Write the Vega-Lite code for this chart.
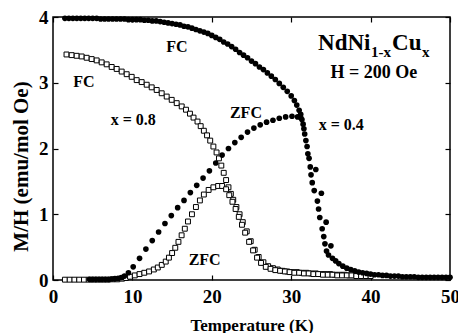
{
  "$schema": "https://vega.github.io/schema/vega-lite/v6.json",
  "width": 397,
  "height": 263,
  "autosize": {"type": "none"},
  "padding": {"left": 53, "top": 17, "right": 8, "bottom": 53},
  "background": "white",
  "datasets": {
    "magnetization": [
      {"x": "0.8", "mode": "FC", "T": 1.7, "M": 3.43}, {"x": "0.8", "mode": "FC", "T": 2.35, "M": 3.42}, {"x": "0.8", "mode": "FC", "T": 2.98, "M": 3.41}, {"x": "0.8", "mode": "FC", "T": 3.61, "M": 3.4},
      {"x": "0.8", "mode": "FC", "T": 4.24, "M": 3.38}, {"x": "0.8", "mode": "FC", "T": 4.87, "M": 3.36}, {"x": "0.8", "mode": "FC", "T": 5.5, "M": 3.34}, {"x": "0.8", "mode": "FC", "T": 6.13, "M": 3.31},
      {"x": "0.8", "mode": "FC", "T": 6.76, "M": 3.28}, {"x": "0.8", "mode": "FC", "T": 7.39, "M": 3.24}, {"x": "0.8", "mode": "FC", "T": 8.02, "M": 3.21}, {"x": "0.8", "mode": "FC", "T": 8.65, "M": 3.17},
      {"x": "0.8", "mode": "FC", "T": 9.28, "M": 3.13}, {"x": "0.8", "mode": "FC", "T": 9.91, "M": 3.09}, {"x": "0.8", "mode": "FC", "T": 10.54, "M": 3.04}, {"x": "0.8", "mode": "FC", "T": 11.17, "M": 3.01},
      {"x": "0.8", "mode": "FC", "T": 11.8, "M": 2.97}, {"x": "0.8", "mode": "FC", "T": 12.43, "M": 2.93}, {"x": "0.8", "mode": "FC", "T": 13.06, "M": 2.89}, {"x": "0.8", "mode": "FC", "T": 13.69, "M": 2.84},
      {"x": "0.8", "mode": "FC", "T": 14.32, "M": 2.79}, {"x": "0.8", "mode": "FC", "T": 14.95, "M": 2.74}, {"x": "0.8", "mode": "FC", "T": 15.58, "M": 2.69}, {"x": "0.8", "mode": "FC", "T": 16.21, "M": 2.64},
      {"x": "0.8", "mode": "FC", "T": 16.75, "M": 2.59}, {"x": "0.8", "mode": "FC", "T": 17.25, "M": 2.53}, {"x": "0.8", "mode": "FC", "T": 17.7, "M": 2.47}, {"x": "0.8", "mode": "FC", "T": 18.2, "M": 2.41},
      {"x": "0.8", "mode": "FC", "T": 18.6, "M": 2.34}, {"x": "0.8", "mode": "FC", "T": 19.0, "M": 2.27}, {"x": "0.8", "mode": "FC", "T": 19.4, "M": 2.2}, {"x": "0.8", "mode": "FC", "T": 19.8, "M": 2.12},
      {"x": "0.8", "mode": "FC", "T": 20.2, "M": 2.03}, {"x": "0.8", "mode": "FC", "T": 20.6, "M": 1.94}, {"x": "0.8", "mode": "FC", "T": 20.9, "M": 1.85}, {"x": "0.8", "mode": "FC", "T": 21.2, "M": 1.74},
      {"x": "0.8", "mode": "FC", "T": 21.5, "M": 1.63}, {"x": "0.8", "mode": "FC", "T": 21.8, "M": 1.52}, {"x": "0.8", "mode": "FC", "T": 22.1, "M": 1.41}, {"x": "0.8", "mode": "FC", "T": 22.4, "M": 1.31},
      {"x": "0.8", "mode": "FC", "T": 22.7, "M": 1.22}, {"x": "0.8", "mode": "FC", "T": 23.1, "M": 1.11}, {"x": "0.8", "mode": "FC", "T": 23.5, "M": 1.0}, {"x": "0.8", "mode": "FC", "T": 23.9, "M": 0.88},
      {"x": "0.8", "mode": "FC", "T": 24.4, "M": 0.74}, {"x": "0.8", "mode": "FC", "T": 24.9, "M": 0.59}, {"x": "0.8", "mode": "FC", "T": 25.4, "M": 0.46}, {"x": "0.8", "mode": "FC", "T": 25.9, "M": 0.35},
      {"x": "0.8", "mode": "FC", "T": 26.5, "M": 0.27}, {"x": "0.8", "mode": "FC", "T": 27.1, "M": 0.21}, {"x": "0.8", "mode": "FC", "T": 27.7, "M": 0.18}, {"x": "0.8", "mode": "FC", "T": 28.3, "M": 0.16},
      {"x": "0.8", "mode": "FC", "T": 28.9, "M": 0.14}, {"x": "0.8", "mode": "FC", "T": 29.5, "M": 0.13}, {"x": "0.8", "mode": "FC", "T": 30.1, "M": 0.12}, {"x": "0.8", "mode": "FC", "T": 30.7, "M": 0.12},
      {"x": "0.8", "mode": "FC", "T": 31.3, "M": 0.11}, {"x": "0.8", "mode": "FC", "T": 31.9, "M": 0.11}, {"x": "0.8", "mode": "FC", "T": 32.5, "M": 0.1}, {"x": "0.8", "mode": "FC", "T": 33.1, "M": 0.1},
      {"x": "0.8", "mode": "FC", "T": 33.7, "M": 0.09}, {"x": "0.8", "mode": "FC", "T": 34.3, "M": 0.09}, {"x": "0.8", "mode": "FC", "T": 34.9, "M": 0.09}, {"x": "0.8", "mode": "FC", "T": 35.5, "M": 0.08},
      {"x": "0.8", "mode": "FC", "T": 36.1, "M": 0.08}, {"x": "0.8", "mode": "FC", "T": 36.7, "M": 0.08}, {"x": "0.8", "mode": "FC", "T": 37.3, "M": 0.07}, {"x": "0.8", "mode": "FC", "T": 37.9, "M": 0.07},
      {"x": "0.8", "mode": "FC", "T": 38.5, "M": 0.07}, {"x": "0.8", "mode": "FC", "T": 39.1, "M": 0.07}, {"x": "0.8", "mode": "FC", "T": 39.7, "M": 0.06},

      {"x": "0.8", "mode": "ZFC", "T": 1.5, "M": 0.005}, {"x": "0.8", "mode": "ZFC", "T": 2.1, "M": 0.005}, {"x": "0.8", "mode": "ZFC", "T": 2.7, "M": 0.005}, {"x": "0.8", "mode": "ZFC", "T": 3.3, "M": 0.005},
      {"x": "0.8", "mode": "ZFC", "T": 3.9, "M": 0.005}, {"x": "0.8", "mode": "ZFC", "T": 4.5, "M": 0.005}, {"x": "0.8", "mode": "ZFC", "T": 5.1, "M": 0.005}, {"x": "0.8", "mode": "ZFC", "T": 5.7, "M": 0.005},
      {"x": "0.8", "mode": "ZFC", "T": 6.3, "M": 0.005}, {"x": "0.8", "mode": "ZFC", "T": 6.9, "M": 0.005}, {"x": "0.8", "mode": "ZFC", "T": 7.5, "M": 0.01}, {"x": "0.8", "mode": "ZFC", "T": 8.1, "M": 0.01},
      {"x": "0.8", "mode": "ZFC", "T": 8.7, "M": 0.02}, {"x": "0.8", "mode": "ZFC", "T": 9.2, "M": 0.03}, {"x": "0.8", "mode": "ZFC", "T": 9.7, "M": 0.05}, {"x": "0.8", "mode": "ZFC", "T": 10.3, "M": 0.07},
      {"x": "0.8", "mode": "ZFC", "T": 10.9, "M": 0.09}, {"x": "0.8", "mode": "ZFC", "T": 11.5, "M": 0.11}, {"x": "0.8", "mode": "ZFC", "T": 12.1, "M": 0.13}, {"x": "0.8", "mode": "ZFC", "T": 12.7, "M": 0.16},
      {"x": "0.8", "mode": "ZFC", "T": 13.2, "M": 0.19}, {"x": "0.8", "mode": "ZFC", "T": 13.7, "M": 0.23}, {"x": "0.8", "mode": "ZFC", "T": 14.2, "M": 0.28}, {"x": "0.8", "mode": "ZFC", "T": 14.6, "M": 0.34},
      {"x": "0.8", "mode": "ZFC", "T": 15.0, "M": 0.41}, {"x": "0.8", "mode": "ZFC", "T": 15.4, "M": 0.49}, {"x": "0.8", "mode": "ZFC", "T": 15.8, "M": 0.58}, {"x": "0.8", "mode": "ZFC", "T": 16.2, "M": 0.68},
      {"x": "0.8", "mode": "ZFC", "T": 16.6, "M": 0.78}, {"x": "0.8", "mode": "ZFC", "T": 17.0, "M": 0.89}, {"x": "0.8", "mode": "ZFC", "T": 17.5, "M": 1.0}, {"x": "0.8", "mode": "ZFC", "T": 18.0, "M": 1.11},
      {"x": "0.8", "mode": "ZFC", "T": 18.5, "M": 1.21}, {"x": "0.8", "mode": "ZFC", "T": 19.0, "M": 1.3}, {"x": "0.8", "mode": "ZFC", "T": 19.6, "M": 1.37}, {"x": "0.8", "mode": "ZFC", "T": 20.2, "M": 1.41},
      {"x": "0.8", "mode": "ZFC", "T": 20.8, "M": 1.43}, {"x": "0.8", "mode": "ZFC", "T": 21.3, "M": 1.43}, {"x": "0.8", "mode": "ZFC", "T": 21.8, "M": 1.38}, {"x": "0.8", "mode": "ZFC", "T": 22.2, "M": 1.29},
      {"x": "0.8", "mode": "ZFC", "T": 22.6, "M": 1.19}, {"x": "0.8", "mode": "ZFC", "T": 23.0, "M": 1.08}, {"x": "0.8", "mode": "ZFC", "T": 23.4, "M": 0.96}, {"x": "0.8", "mode": "ZFC", "T": 23.8, "M": 0.84},
      {"x": "0.8", "mode": "ZFC", "T": 24.2, "M": 0.72}, {"x": "0.8", "mode": "ZFC", "T": 24.7, "M": 0.58}, {"x": "0.8", "mode": "ZFC", "T": 25.2, "M": 0.45}, {"x": "0.8", "mode": "ZFC", "T": 25.7, "M": 0.34},
      {"x": "0.8", "mode": "ZFC", "T": 26.2, "M": 0.26}, {"x": "0.8", "mode": "ZFC", "T": 26.8, "M": 0.2}, {"x": "0.8", "mode": "ZFC", "T": 27.4, "M": 0.17}, {"x": "0.8", "mode": "ZFC", "T": 28.0, "M": 0.15},
      {"x": "0.8", "mode": "ZFC", "T": 28.6, "M": 0.14}, {"x": "0.8", "mode": "ZFC", "T": 29.2, "M": 0.13}, {"x": "0.8", "mode": "ZFC", "T": 29.8, "M": 0.12}, {"x": "0.8", "mode": "ZFC", "T": 30.4, "M": 0.11},
      {"x": "0.8", "mode": "ZFC", "T": 31.0, "M": 0.11}, {"x": "0.8", "mode": "ZFC", "T": 31.6, "M": 0.1}, {"x": "0.8", "mode": "ZFC", "T": 32.2, "M": 0.1}, {"x": "0.8", "mode": "ZFC", "T": 32.8, "M": 0.09},
      {"x": "0.8", "mode": "ZFC", "T": 33.4, "M": 0.09}, {"x": "0.8", "mode": "ZFC", "T": 34.0, "M": 0.08}, {"x": "0.8", "mode": "ZFC", "T": 34.6, "M": 0.08}, {"x": "0.8", "mode": "ZFC", "T": 35.2, "M": 0.08},
      {"x": "0.8", "mode": "ZFC", "T": 35.8, "M": 0.07}, {"x": "0.8", "mode": "ZFC", "T": 36.4, "M": 0.07}, {"x": "0.8", "mode": "ZFC", "T": 37.0, "M": 0.07}, {"x": "0.8", "mode": "ZFC", "T": 37.6, "M": 0.07},
      {"x": "0.8", "mode": "ZFC", "T": 38.2, "M": 0.06}, {"x": "0.8", "mode": "ZFC", "T": 38.8, "M": 0.06}, {"x": "0.8", "mode": "ZFC", "T": 39.4, "M": 0.06}, {"x": "0.8", "mode": "ZFC", "T": 40.0, "M": 0.06},

      {"x": "0.4", "mode": "FC", "T": 1.5, "M": 3.98}, {"x": "0.4", "mode": "FC", "T": 2.0, "M": 3.98}, {"x": "0.4", "mode": "FC", "T": 2.5, "M": 3.98}, {"x": "0.4", "mode": "FC", "T": 3.0, "M": 3.98},
      {"x": "0.4", "mode": "FC", "T": 3.5, "M": 3.98}, {"x": "0.4", "mode": "FC", "T": 4.0, "M": 3.98}, {"x": "0.4", "mode": "FC", "T": 4.5, "M": 3.98}, {"x": "0.4", "mode": "FC", "T": 5.0, "M": 3.98},
      {"x": "0.4", "mode": "FC", "T": 5.5, "M": 3.98}, {"x": "0.4", "mode": "FC", "T": 6.0, "M": 3.97}, {"x": "0.4", "mode": "FC", "T": 6.5, "M": 3.97}, {"x": "0.4", "mode": "FC", "T": 7.0, "M": 3.97},
      {"x": "0.4", "mode": "FC", "T": 7.5, "M": 3.97}, {"x": "0.4", "mode": "FC", "T": 8.0, "M": 3.97}, {"x": "0.4", "mode": "FC", "T": 8.5, "M": 3.97}, {"x": "0.4", "mode": "FC", "T": 9.0, "M": 3.97},
      {"x": "0.4", "mode": "FC", "T": 9.5, "M": 3.96}, {"x": "0.4", "mode": "FC", "T": 10.0, "M": 3.96}, {"x": "0.4", "mode": "FC", "T": 10.5, "M": 3.96}, {"x": "0.4", "mode": "FC", "T": 11.0, "M": 3.96},
      {"x": "0.4", "mode": "FC", "T": 11.5, "M": 3.95}, {"x": "0.4", "mode": "FC", "T": 12.0, "M": 3.95}, {"x": "0.4", "mode": "FC", "T": 12.5, "M": 3.94}, {"x": "0.4", "mode": "FC", "T": 13.0, "M": 3.94},
      {"x": "0.4", "mode": "FC", "T": 13.5, "M": 3.93}, {"x": "0.4", "mode": "FC", "T": 14.0, "M": 3.92}, {"x": "0.4", "mode": "FC", "T": 14.5, "M": 3.91}, {"x": "0.4", "mode": "FC", "T": 15.0, "M": 3.9},
      {"x": "0.4", "mode": "FC", "T": 15.5, "M": 3.89}, {"x": "0.4", "mode": "FC", "T": 16.0, "M": 3.88}, {"x": "0.4", "mode": "FC", "T": 16.5, "M": 3.86}, {"x": "0.4", "mode": "FC", "T": 17.0, "M": 3.85},
      {"x": "0.4", "mode": "FC", "T": 17.5, "M": 3.83}, {"x": "0.4", "mode": "FC", "T": 18.0, "M": 3.81}, {"x": "0.4", "mode": "FC", "T": 18.5, "M": 3.79}, {"x": "0.4", "mode": "FC", "T": 19.0, "M": 3.77},
      {"x": "0.4", "mode": "FC", "T": 19.5, "M": 3.75}, {"x": "0.4", "mode": "FC", "T": 20.0, "M": 3.72}, {"x": "0.4", "mode": "FC", "T": 20.5, "M": 3.69}, {"x": "0.4", "mode": "FC", "T": 21.0, "M": 3.66},
      {"x": "0.4", "mode": "FC", "T": 21.5, "M": 3.62}, {"x": "0.4", "mode": "FC", "T": 22.0, "M": 3.59}, {"x": "0.4", "mode": "FC", "T": 22.5, "M": 3.55}, {"x": "0.4", "mode": "FC", "T": 23.0, "M": 3.51},
      {"x": "0.4", "mode": "FC", "T": 23.5, "M": 3.46}, {"x": "0.4", "mode": "FC", "T": 24.0, "M": 3.42}, {"x": "0.4", "mode": "FC", "T": 24.5, "M": 3.38}, {"x": "0.4", "mode": "FC", "T": 25.0, "M": 3.33},
      {"x": "0.4", "mode": "FC", "T": 25.5, "M": 3.29}, {"x": "0.4", "mode": "FC", "T": 26.0, "M": 3.24}, {"x": "0.4", "mode": "FC", "T": 26.5, "M": 3.2}, {"x": "0.4", "mode": "FC", "T": 27.0, "M": 3.15},
      {"x": "0.4", "mode": "FC", "T": 27.5, "M": 3.1}, {"x": "0.4", "mode": "FC", "T": 28.0, "M": 3.05}, {"x": "0.4", "mode": "FC", "T": 28.5, "M": 2.99}, {"x": "0.4", "mode": "FC", "T": 29.0, "M": 2.93},
      {"x": "0.4", "mode": "FC", "T": 29.5, "M": 2.87}, {"x": "0.4", "mode": "FC", "T": 30.0, "M": 2.8}, {"x": "0.4", "mode": "FC", "T": 30.4, "M": 2.73}, {"x": "0.4", "mode": "FC", "T": 30.7, "M": 2.66},
      {"x": "0.4", "mode": "FC", "T": 31.0, "M": 2.58}, {"x": "0.4", "mode": "FC", "T": 31.2, "M": 2.52}, {"x": "0.4", "mode": "FC", "T": 31.35, "M": 2.44}, {"x": "0.4", "mode": "FC", "T": 31.5, "M": 2.37},
      {"x": "0.4", "mode": "FC", "T": 31.6, "M": 2.3}, {"x": "0.4", "mode": "FC", "T": 31.7, "M": 2.22}, {"x": "0.4", "mode": "FC", "T": 31.85, "M": 2.12}, {"x": "0.4", "mode": "FC", "T": 32.0, "M": 2.03},
      {"x": "0.4", "mode": "FC", "T": 32.1, "M": 1.92}, {"x": "0.4", "mode": "FC", "T": 32.25, "M": 1.85}, {"x": "0.4", "mode": "FC", "T": 32.4, "M": 1.72}, {"x": "0.4", "mode": "FC", "T": 33.1, "M": 1.68},
      {"x": "0.4", "mode": "FC", "T": 32.5, "M": 1.6}, {"x": "0.4", "mode": "FC", "T": 32.65, "M": 1.48}, {"x": "0.4", "mode": "FC", "T": 32.9, "M": 1.36}, {"x": "0.4", "mode": "FC", "T": 33.8, "M": 1.32},
      {"x": "0.4", "mode": "FC", "T": 33.3, "M": 1.2}, {"x": "0.4", "mode": "FC", "T": 33.45, "M": 1.08}, {"x": "0.4", "mode": "FC", "T": 33.6, "M": 0.95}, {"x": "0.4", "mode": "FC", "T": 34.4, "M": 0.88},
      {"x": "0.4", "mode": "FC", "T": 33.9, "M": 0.78}, {"x": "0.4", "mode": "FC", "T": 34.1, "M": 0.66}, {"x": "0.4", "mode": "FC", "T": 34.25, "M": 0.55}, {"x": "0.4", "mode": "FC", "T": 35.0, "M": 0.52},
      {"x": "0.4", "mode": "FC", "T": 34.45, "M": 0.44}, {"x": "0.4", "mode": "FC", "T": 34.7, "M": 0.38}, {"x": "0.4", "mode": "FC", "T": 35.2, "M": 0.33}, {"x": "0.4", "mode": "FC", "T": 35.6, "M": 0.29},
      {"x": "0.4", "mode": "FC", "T": 36.0, "M": 0.25}, {"x": "0.4", "mode": "FC", "T": 36.5, "M": 0.21}, {"x": "0.4", "mode": "FC", "T": 37.0, "M": 0.18}, {"x": "0.4", "mode": "FC", "T": 37.5, "M": 0.16},
      {"x": "0.4", "mode": "FC", "T": 38.0, "M": 0.14}, {"x": "0.4", "mode": "FC", "T": 38.5, "M": 0.12}, {"x": "0.4", "mode": "FC", "T": 39.0, "M": 0.11}, {"x": "0.4", "mode": "FC", "T": 39.5, "M": 0.1},
      {"x": "0.4", "mode": "FC", "T": 40.0, "M": 0.09}, {"x": "0.4", "mode": "FC", "T": 40.5, "M": 0.08}, {"x": "0.4", "mode": "FC", "T": 41.0, "M": 0.08}, {"x": "0.4", "mode": "FC", "T": 41.5, "M": 0.07},
      {"x": "0.4", "mode": "FC", "T": 42.0, "M": 0.07}, {"x": "0.4", "mode": "FC", "T": 42.5, "M": 0.06}, {"x": "0.4", "mode": "FC", "T": 43.0, "M": 0.06}, {"x": "0.4", "mode": "FC", "T": 43.5, "M": 0.06},
      {"x": "0.4", "mode": "FC", "T": 44.0, "M": 0.05}, {"x": "0.4", "mode": "FC", "T": 44.5, "M": 0.05}, {"x": "0.4", "mode": "FC", "T": 45.0, "M": 0.05}, {"x": "0.4", "mode": "FC", "T": 45.5, "M": 0.05},
      {"x": "0.4", "mode": "FC", "T": 46.0, "M": 0.04}, {"x": "0.4", "mode": "FC", "T": 46.5, "M": 0.04}, {"x": "0.4", "mode": "FC", "T": 47.0, "M": 0.04}, {"x": "0.4", "mode": "FC", "T": 47.5, "M": 0.04},
      {"x": "0.4", "mode": "FC", "T": 48.0, "M": 0.04}, {"x": "0.4", "mode": "FC", "T": 48.5, "M": 0.04}, {"x": "0.4", "mode": "FC", "T": 49.0, "M": 0.04}, {"x": "0.4", "mode": "FC", "T": 49.5, "M": 0.04},
      {"x": "0.4", "mode": "FC", "T": 50.0, "M": 0.04},

      {"x": "0.4", "mode": "ZFC", "T": 4.6, "M": 0.01}, {"x": "0.4", "mode": "ZFC", "T": 5.0, "M": 0.01}, {"x": "0.4", "mode": "ZFC", "T": 5.4, "M": 0.01}, {"x": "0.4", "mode": "ZFC", "T": 5.8, "M": 0.01},
      {"x": "0.4", "mode": "ZFC", "T": 6.2, "M": 0.01}, {"x": "0.4", "mode": "ZFC", "T": 6.6, "M": 0.01}, {"x": "0.4", "mode": "ZFC", "T": 7.0, "M": 0.01}, {"x": "0.4", "mode": "ZFC", "T": 7.4, "M": 0.015},
      {"x": "0.4", "mode": "ZFC", "T": 7.8, "M": 0.02}, {"x": "0.4", "mode": "ZFC", "T": 8.2, "M": 0.025}, {"x": "0.4", "mode": "ZFC", "T": 8.6, "M": 0.035}, {"x": "0.4", "mode": "ZFC", "T": 9.0, "M": 0.06},
      {"x": "0.4", "mode": "ZFC", "T": 9.5, "M": 0.11}, {"x": "0.4", "mode": "ZFC", "T": 10.1, "M": 0.2}, {"x": "0.4", "mode": "ZFC", "T": 10.9, "M": 0.33}, {"x": "0.4", "mode": "ZFC", "T": 11.7, "M": 0.47},
      {"x": "0.4", "mode": "ZFC", "T": 12.5, "M": 0.6}, {"x": "0.4", "mode": "ZFC", "T": 13.3, "M": 0.73}, {"x": "0.4", "mode": "ZFC", "T": 14.1, "M": 0.86}, {"x": "0.4", "mode": "ZFC", "T": 14.9, "M": 0.98},
      {"x": "0.4", "mode": "ZFC", "T": 15.7, "M": 1.1}, {"x": "0.4", "mode": "ZFC", "T": 16.5, "M": 1.21}, {"x": "0.4", "mode": "ZFC", "T": 17.3, "M": 1.33}, {"x": "0.4", "mode": "ZFC", "T": 18.1, "M": 1.44},
      {"x": "0.4", "mode": "ZFC", "T": 18.9, "M": 1.55}, {"x": "0.4", "mode": "ZFC", "T": 19.7, "M": 1.66}, {"x": "0.4", "mode": "ZFC", "T": 20.5, "M": 1.78}, {"x": "0.4", "mode": "ZFC", "T": 21.3, "M": 1.9},
      {"x": "0.4", "mode": "ZFC", "T": 22.1, "M": 2.0}, {"x": "0.4", "mode": "ZFC", "T": 22.9, "M": 2.09}, {"x": "0.4", "mode": "ZFC", "T": 23.7, "M": 2.17}, {"x": "0.4", "mode": "ZFC", "T": 24.5, "M": 2.25},
      {"x": "0.4", "mode": "ZFC", "T": 25.3, "M": 2.31}, {"x": "0.4", "mode": "ZFC", "T": 26.1, "M": 2.36}, {"x": "0.4", "mode": "ZFC", "T": 26.9, "M": 2.4}, {"x": "0.4", "mode": "ZFC", "T": 27.7, "M": 2.43},
      {"x": "0.4", "mode": "ZFC", "T": 28.5, "M": 2.46}, {"x": "0.4", "mode": "ZFC", "T": 29.3, "M": 2.48}, {"x": "0.4", "mode": "ZFC", "T": 30.1, "M": 2.49}, {"x": "0.4", "mode": "ZFC", "T": 30.8, "M": 2.48},
      {"x": "0.4", "mode": "ZFC", "T": 31.2, "M": 2.47}
    ],
    "notes": [
      {"role": "label", "T": 15.6, "M": 3.47, "text": "FC"},
      {"role": "label", "T": 3.9, "M": 2.94, "text": "FC"},
      {"role": "label", "T": 10.1, "M": 2.36, "text": "x = 0.8"},
      {"role": "label", "T": 24.3, "M": 2.46, "text": "ZFC"},
      {"role": "label", "T": 36.3, "M": 2.28, "text": "x = 0.4"},
      {"role": "label", "T": 19.1, "M": 0.23, "text": "ZFC"},
      {"role": "field", "T": 40.4, "M": 3.07, "text": "H = 200 Oe"},
      {"role": "formula", "T": 33.38, "M": 3.5, "text": "NdNi"},
      {"role": "formula", "T": 42.7, "M": 3.5, "text": "Cu"},
      {"role": "subscript", "T": 40.05, "M": 3.39, "text": "1-x"},
      {"role": "subscript", "T": 46.47, "M": 3.39, "text": "x"}
    ]
  },
  "layer": [
    {
      "data": {"name": "magnetization"},
      "transform": [{"filter": "datum.x === '0.8'"}],
      "mark": {"type": "point", "shape": "square", "size": 24, "filled": false, "fill": "white", "stroke": "black", "strokeWidth": 1, "opacity": 1},
      "encoding": {
        "x": {"field": "T", "type": "quantitative", "scale": {"domain": [0, 50], "nice": false},
              "axis": {"orient": "bottom", "values": [0, 10, 20, 30, 40, 50], "title": "Temperature (K)",
                       "titleFontSize": 17, "titleY": 50, "titleBaseline": "alphabetic", "labelPadding": 12}},
        "y": {"field": "M", "type": "quantitative", "scale": {"domain": [0, 4], "nice": false},
              "axis": {"orient": "left", "values": [0, 1, 2, 3, 4], "title": "M/H (emu/mol Oe)",
                       "titleFontSize": 21, "titleX": -26, "titleY": 149, "titleAngle": -90, "titleAlign": "center", "titleBaseline": "alphabetic", "labelPadding": 10}}
      }
    },
    {
      "data": {"name": "magnetization"},
      "transform": [{"filter": "datum.x === '0.4'"}],
      "mark": {"type": "circle", "size": 32, "color": "black", "opacity": 1},
      "encoding": {
        "x": {"field": "T", "type": "quantitative",
              "axis": {"orient": "top", "values": [0, 10, 20, 30, 40, 50], "labels": false, "title": null}},
        "y": {"field": "M", "type": "quantitative",
              "axis": {"orient": "right", "values": [0, 1, 2, 3, 4], "labels": false, "title": null}}
      }
    },
    {
      "data": {"name": "notes"},
      "transform": [{"filter": "datum.role === 'label'"}],
      "mark": {"type": "text", "font": "Liberation Serif", "fontWeight": "bold", "fontSize": 16, "align": "center", "baseline": "alphabetic", "color": "black"},
      "encoding": {"x": {"field": "T", "type": "quantitative", "axis": null}, "y": {"field": "M", "type": "quantitative", "axis": null}, "text": {"field": "text"}}
    },
    {
      "data": {"name": "notes"},
      "transform": [{"filter": "datum.role === 'field'"}],
      "mark": {"type": "text", "font": "Liberation Serif", "fontWeight": "bold", "fontSize": 18, "align": "center", "baseline": "alphabetic", "color": "black"},
      "encoding": {"x": {"field": "T", "type": "quantitative", "axis": null}, "y": {"field": "M", "type": "quantitative", "axis": null}, "text": {"field": "text"}}
    },
    {
      "data": {"name": "notes"},
      "transform": [{"filter": "datum.role === 'formula'"}],
      "mark": {"type": "text", "font": "Liberation Serif", "fontWeight": "bold", "fontSize": 23, "align": "left", "baseline": "alphabetic", "color": "black"},
      "encoding": {"x": {"field": "T", "type": "quantitative", "axis": null}, "y": {"field": "M", "type": "quantitative", "axis": null}, "text": {"field": "text"}}
    },
    {
      "data": {"name": "notes"},
      "transform": [{"filter": "datum.role === 'subscript'"}],
      "mark": {"type": "text", "font": "Liberation Serif", "fontWeight": "bold", "fontSize": 15, "align": "left", "baseline": "alphabetic", "color": "black"},
      "encoding": {"x": {"field": "T", "type": "quantitative", "axis": null}, "y": {"field": "M", "type": "quantitative", "axis": null}, "text": {"field": "text"}}
    }
  ],
  "resolve": {"axis": {"x": "independent", "y": "independent"}},
  "config": {
    "view": {"stroke": "black", "strokeWidth": 1.5},
    "axis": {
      "grid": false,
      "domain": false,
      "ticks": true,
      "tickSize": -5,
      "tickWidth": 1.2,
      "tickColor": "black",
      "labelFont": "Liberation Serif",
      "labelFontWeight": "bold",
      "labelFontSize": 19,
      "labelColor": "black",
      "labelFlush": false,
      "labelOverlap": false,
      "titleFont": "Liberation Serif",
      "titleFontWeight": "bold",
      "titleColor": "black"
    }
  }
}
